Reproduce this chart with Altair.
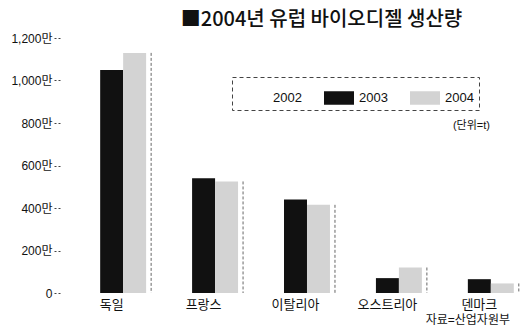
import altair as alt
import pandas as pd

categories = ["독일", "프랑스", "이탈리아", "오스트리아", "덴마크"]
series = ["2002", "2003", "2004"]
values_2003 = [1050, 540, 440, 70, 65]
values_2004 = [1130, 525, 415, 120, 45]
y_ticks = [0, 200, 400, 600, 800, 1000, 1200]
series_colors = ["#ffffff", "#111111", "#d3d3d3"]
title_text = "■2004년 유럽 바이오디젤 생산량"
unit_text = ["(단위=t)"]
source_text = ["자료=산업자원부"]

rows = []
for c, v in zip(categories, values_2003):
    rows.append({"국가": c, "연도": "2003", "생산량": v})
for c, v in zip(categories, values_2004):
    rows.append({"국가": c, "연도": "2004", "생산량": v})
df = pd.DataFrame(rows)
df_2004 = pd.DataFrame({"국가": categories, "생산량": values_2004})

FONT = "Liberation Sans, Noto Sans CJK KR"

x_enc = alt.X(
    "국가:N",
    sort=categories,
    scale=alt.Scale(paddingInner=0.25, paddingOuter=0.1),
    axis=alt.Axis(title=None, labelAngle=0, ticks=False, domain=False,
                  labelFontSize=13, labelPadding=5, labelColor="#111",
                  labelFont=FONT),
)
y_enc = alt.Y(
    "생산량:Q",
    scale=alt.Scale(domain=[0, 1200]),
    axis=alt.Axis(values=y_ticks, title=None, grid=False, domain=False,
                  labelExpr="datum.value == 0 ? '0' : format(datum.value, ',') + '만'",
                  tickDash=[2, 2], tickSize=6, tickColor="#444", offset=8,
                  labelFontSize=12, labelPadding=2, labelColor="#111",
                  labelFont=FONT),
)

bars = alt.Chart(df).mark_bar().encode(
    x=x_enc,
    xOffset=alt.XOffset("연도:N", scale=alt.Scale(domain=series, paddingInner=0, paddingOuter=0)),
    y=y_enc,
    color=alt.Color(
        "연도:N",
        scale=alt.Scale(domain=series, range=series_colors),
        legend=alt.Legend(
            title=None, orient="none", legendX=164, legendY=39,
            direction="horizontal",
            symbolType="M-1,-0.45L1,-0.45L1,0.45L-1,0.45Z",
            symbolSize=900, labelFontSize=13, labelFont=FONT, labelColor="#111",
            labelOffset=4, columnPadding=21, padding=5,
        ),
    ),
)

edges = alt.Chart(df_2004).mark_rule(
    strokeDash=[3, 2], color="#666", strokeWidth=1, xOffset=5
).encode(
    x=alt.X("국가:N", sort=categories, bandPosition=1),
    y=alt.Y("생산량:Q"),
    y2=alt.datum(0),
)

unit = alt.Chart(pd.DataFrame({"t": unit_text})).mark_text(
    align="right", baseline="middle", fontSize=11, font=FONT, color="#111"
).encode(x=alt.value(422), y=alt.value(88), text="t:N")

source = alt.Chart(pd.DataFrame({"t": source_text})).mark_text(
    align="right", baseline="middle", fontSize=12, font=FONT, color="#111"
).encode(x=alt.value(442), y=alt.value(282), text="t:N")

chart = alt.layer(bars, edges, unit, source).properties(
    width=455,
    height=255,
    padding={"left": 68, "top": 38, "right": 0, "bottom": 35},
    autosize="none",
    title=alt.TitleParams(title_text, anchor="middle", dx=26, fontSize=20,
                          font="Noto Sans CJK KR", fontWeight=500, color="#111",
                          offset=2),
    background="white",
).configure_view(stroke=None).configure_legend(
    strokeColor="#444", strokeDash=[4, 3]
)

chart.save("out.html", embed_options={"renderer": "svg", "actions": False})
